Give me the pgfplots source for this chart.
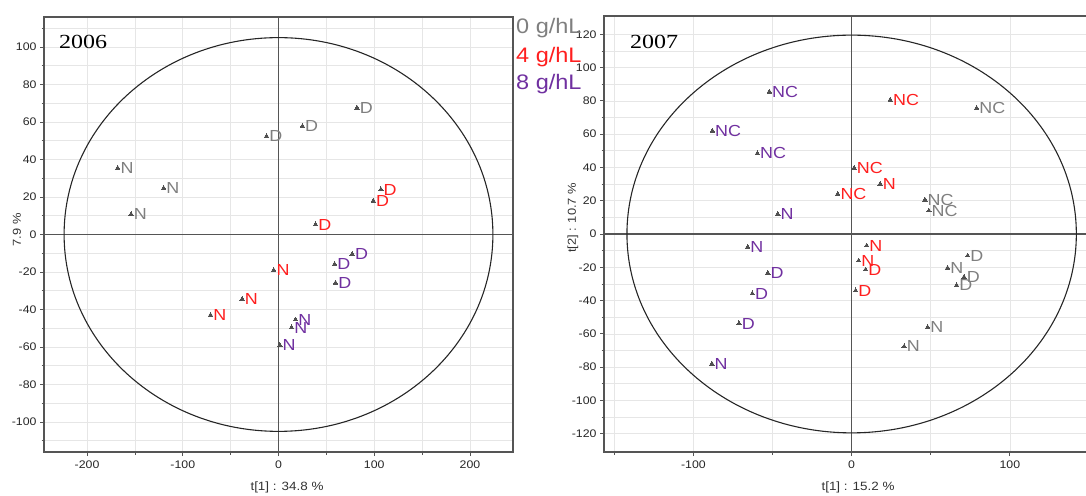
\documentclass[border=0pt]{standalone}
\usepackage{pgfplots}
\pgfplotsset{compat=1.18}
\usepackage{fontspec}
\setmainfont{Liberation Sans}
\newfontfamily\lab[FakeStretch=1.12]{Liberation Sans}
\newfontfamily\yr[FakeStretch=1.2]{Liberation Serif}
\definecolor{cgray}{HTML}{7F7F7F}
\definecolor{cred}{HTML}{FF1F1F}
\definecolor{cpur}{HTML}{7030A0}
\definecolor{spine}{HTML}{555555}
\definecolor{gridc}{HTML}{E6E6E6}
\definecolor{mk}{HTML}{505050}
\pgfplotsset{
 pcaax/.style={
  scale only axis, anchor=south west,
  axis line style={spine, line width=1.1pt},
  tick align=outside, xtick pos=bottom, ytick pos=left,
  major tick length=4pt, minor tick length=2.5pt,
  tick style={spine, line width=0.8pt},
  grid=both,
  major grid style={gridc, line width=0.6pt},
  minor grid style={gridc, line width=0.6pt},
  ticklabel style={font=\lab\fontsize{11}{12}\selectfont, text=black!85},
  /pgf/number format/assume math mode=true,
  xticklabel style={yshift=-1pt},
 },
 grp/.style={only marks, mark=triangle*, mark size=2.6pt,
  mark options={fill=mk, draw=mk, line width=0pt},
  nodes near coords, point meta=explicit symbolic,
  every node near coord/.append style={anchor=west, inner sep=0pt, xshift=2.8pt,
     font=\lab\fontsize{16}{16}\selectfont, text=#1}},
}
\begin{document}
\begin{tikzpicture}[x=1pt,y=1pt]
% ---------- 2006 ----------
\begin{axis}[pcaax, at={(44pt,43pt)}, width=469pt, height=435pt,
  xmin=-245, xmax=245, ymin=-116, ymax=116,
  xtick={-200,-100,0,100,200}, minor xtick={-150,-50,50,150},
  ytick={-100,-80,...,100}, minor ytick={-110,-90,...,110}]
\draw[spine, line width=1.1pt] (axis cs:0,-116) -- (axis cs:0,116);
\draw[spine, line width=1.1pt] (axis cs:-245,0) -- (axis cs:245,0);
\draw[black!85, line width=1.1pt] (axis cs:0,0) ellipse [x radius=224, y radius=105];
\addplot[grp=cgray] table[meta=lab] {
x y lab
-168 35.4 N
-120 24.7 N
-154 10.8 N
-12.5 52.4 D
25 57.8 D
82 67.6 D
};
\addplot[grp=cred] table[meta=lab] {
x y lab
107 24 D
99 18 D
38.7 5.3 D
-5 -19 N
-38 -34.4 N
-71 -43 N
};
\addplot[grp=cpur] table[meta=lab] {
x y lab
77 -10.5 D
58.6 -15.8 D
59.6 -25.8 D
17.8 -45.4 N
13.6 -49.6 N
1.4 -59 N
};
\end{axis}
% ---------- 2007 ----------
\begin{axis}[pcaax, at={(604pt,43pt)}, width=485pt, height=436pt,
  xmin=-156.5, xmax=150, ymin=-131, ymax=131,
  xtick={-100,0,100}, minor xtick={-150,-50,50},
  ytick={-120,-100,...,120}, minor ytick={-110,-90,...,110}]
\draw[spine, line width=1.1pt] (axis cs:0,-131) -- (axis cs:0,131);
\draw[spine, line width=1.1pt] (axis cs:-156.5,0) -- (axis cs:150,0);
\draw[black!85, line width=1.1pt] (axis cs:0,0) ellipse [x radius=142, y radius=119.5];
\addplot[grp=cpur] table[meta=lab] {
x y lab
-52 85.5 NC
-88 62 NC
-59.6 48.4 NC
-46.7 12 N
-65.7 -7.8 N
-53 -23.4 D
-62.8 -35.8 D
-71.2 -53.8 D
-88.3 -78 N
};
\addplot[grp=cred] table[meta=lab] {
x y lab
24.4 80.6 NC
1.6 39.6 NC
18 30 N
-8.8 24 NC
9.5 -7 N
4.4 -16 N
8.8 -21.4 D
2.5 -34 D
};
\addplot[grp=cgray] table[meta=lab] {
x y lab
79 75.6 NC
46.3 20.6 NC
48.8 14 NC
73.3 -13 D
60.6 -20.4 N
71 -25.8 D
66.3 -30.8 D
48 -56 N
33.2 -67.6 N
};
\end{axis}
% ---------- texts ----------
\node[anchor=west, inner sep=0pt, font=\yr\fontsize{20}{20}\selectfont] at (59,453) {2006};
\node[anchor=west, inner sep=0pt, font=\yr\fontsize{20}{20}\selectfont] at (630,453) {2007};
\node[anchor=west, inner sep=0pt, text=cgray, font=\lab\fontsize{21}{21}\selectfont] at (516,467) {0 g/hL};
\node[anchor=west, inner sep=0pt, text=cred, font=\lab\fontsize{21}{21}\selectfont] at (516,437.5) {4 g/hL};
\node[anchor=west, inner sep=0pt, text=cpur, font=\lab\fontsize{21}{21}\selectfont] at (516,411) {8 g/hL};
\node[rotate=90, inner sep=0pt, text=black!80, font=\lab\fontsize{11.5}{12}\selectfont] at (17,265) {7.9 \%};
\node[rotate=90, inner sep=0pt, text=black!80, font=\lab\fontsize{11.5}{12}\selectfont] at (573,277) {t[2] : 10.7 \%};
\node[inner sep=0pt, text=black!80, font=\lab\fontsize{12}{12}\selectfont] at (287,8) {t[1] : 34.8 \%};
\node[inner sep=0pt, text=black!80, font=\lab\fontsize{12}{12}\selectfont] at (858,8) {t[1] : 15.2 \%};
\pgfresetboundingbox
\path[use as bounding box] (0,0) rectangle (1086,495);
\end{tikzpicture}
\end{document}
